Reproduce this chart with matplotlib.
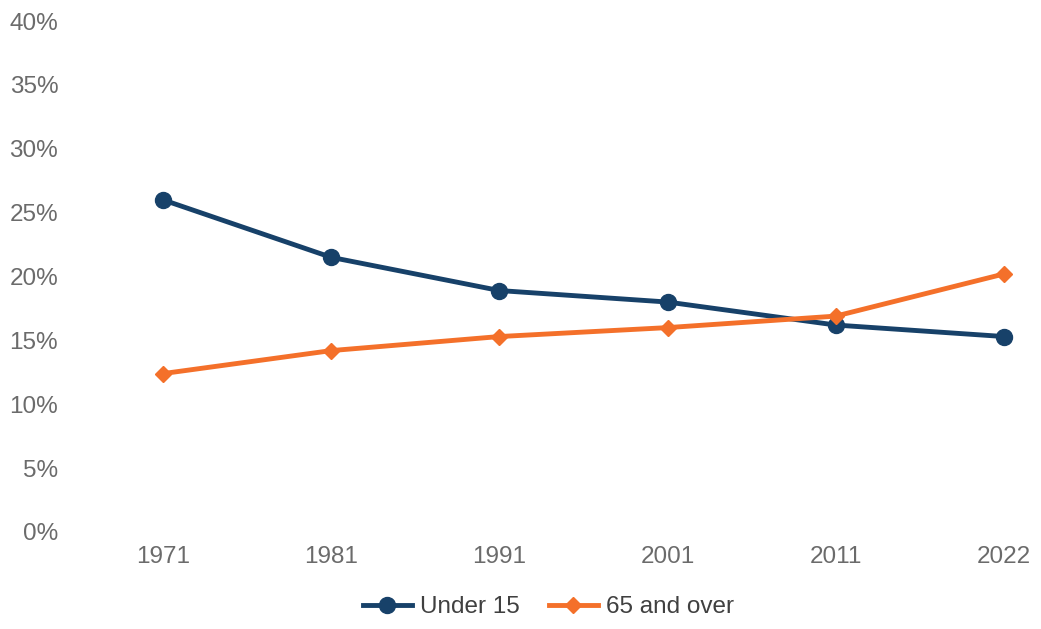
import matplotlib
matplotlib.use('Agg')
import matplotlib.pyplot as plt
from matplotlib.ticker import FuncFormatter

years = ['1971', '1981', '1991', '2001', '2011', '2022']
under_15 = [26.0, 21.5, 18.9, 18.0, 16.2, 15.3]
over_65 = [12.4, 14.2, 15.3, 16.0, 16.9, 20.2]

plt.rcParams['font.family'] = ['Liberation Sans', 'DejaVu Sans']

W, H = 1041, 629
fig = plt.figure(figsize=(W / 100, H / 100), dpi=100)
# axes placed in pixel terms
left, right, top, bottom = 70, 1035, 21, 532
ax = fig.add_axes([left / W, (H - bottom) / H, (right - left) / W, (bottom - top) / H])

x = range(len(years))
ax.plot(x, under_15, color='#174169', lw=3.5, marker='o', markersize=11.5,
        label='Under 15', solid_joinstyle='round')
ax.plot(x, over_65, color='#f4702a', lw=3.5, marker='D', markersize=8,
        label='65 and over', solid_joinstyle='round')

ax.set_xlim(-(163 - left) / 168.2, 5 + (right - 1004) / 168.2)
ax.set_ylim(0, 40)
ax.set_yticks(range(0, 41, 5))
ax.yaxis.set_major_formatter(FuncFormatter(lambda v, p: '%d%%' % v))
ax.set_xticks(list(x))
ax.set_xticklabels(years)

for s in ax.spines.values():
    s.set_visible(False)
ax.tick_params(axis='both', length=0, labelsize=17.5, colors='#6b6b6b')
ax.tick_params(axis='x', pad=10)
ax.tick_params(axis='y', pad=8.5)

leg = fig.legend(loc='center', bbox_to_anchor=(0.527, 1 - 607 / H), ncol=2,
                 frameon=False, fontsize=17.5, handlelength=2.0,
                 columnspacing=1.2, handletextpad=0.35)
for t in leg.get_texts():
    t.set_color('#404040')

fig.savefig('out.png', dpi=100)
